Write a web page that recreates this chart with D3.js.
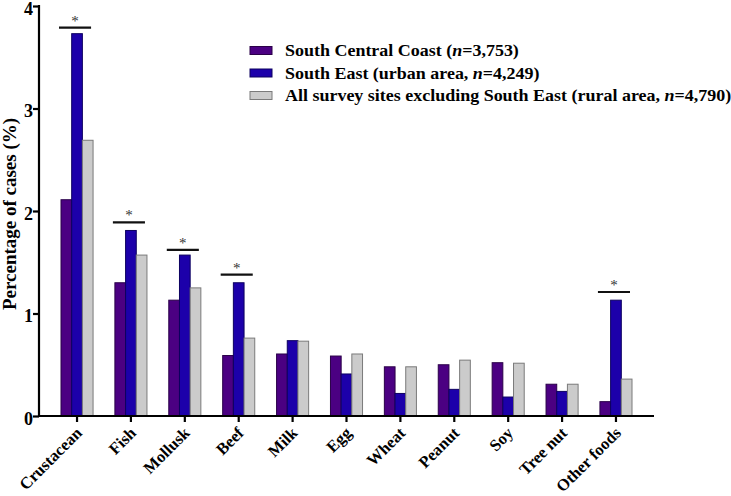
<!DOCTYPE html>
<html><head><meta charset="utf-8">
<script src="https://cdn.jsdelivr.net/npm/d3@7"></script>
<style>body{margin:0;background:#fff}svg{display:block}</style>
</head><body>
<svg id="c" width="731" height="496"></svg>
<script>
const categories = ["Crustacean","Fish","Mollusk","Beef","Milk","Egg","Wheat","Peanut","Soy","Tree nut","Other foods"];
const seriesNames = ["South Central Coast", "South East (urban area", "All survey sites excluding South East (rural area"];
const southCentralCoast = [2.11,1.30,1.13,0.59,0.605,0.585,0.48,0.50,0.52,0.31,0.14];
const southEast =        [3.73,1.81,1.57,1.30,0.735,0.41,0.22,0.26,0.185,0.24,1.13];
const ruralArea =        [2.69,1.57,1.25,0.76,0.73,0.605,0.48,0.545,0.515,0.31,0.36];
const yTicks = [0,1,2,3,4];
const sigCategories = ["Crustacean","Fish","Mollusk","Beef","Other foods"];
const sigLevels = [3.79,1.89,1.62,1.38,1.21];

const colors = ["#4b0082","#1c00aa","#cbcbcb"];
const strokes = ["#2a0048","#0d0060","#7a7a7a"];
const series = [southCentralCoast, southEast, ruralArea];
const FONT = '"Liberation Serif", "Times New Roman", serif';

const svg = d3.select("#c");
const y = d3.scaleLinear().domain([0,4]).range([416,6]);
const x = d3.scaleBand().domain(categories).range([61,632]).paddingInner(0.405).paddingOuter(0);
const xs = d3.scaleBand().domain([0,1,2]).range([0, x.bandwidth()]);

// bars
categories.forEach((c,i)=>{
  series.forEach((s,k)=>{
    svg.append("rect")
      .attr("x", x(c)+xs(k)).attr("y", y(s[i]))
      .attr("width", xs.bandwidth()).attr("height", y(0)-y(s[i]))
      .attr("fill", colors[k]).attr("stroke", strokes[k]).attr("stroke-width",1);
  });
});

// significance
sigCategories.forEach((c,i)=>{
  const x0 = x(c)-2, x1 = x(c)+x.bandwidth()-2;
  svg.append("line").attr("x1",x0).attr("x2",x1).attr("y1",y(sigLevels[i])).attr("y2",y(sigLevels[i]))
    .attr("stroke","#111").attr("stroke-width",2.2);
  svg.append("text").attr("x",(x0+x1)/2).attr("y",y(sigLevels[i])-2)
    .attr("text-anchor","middle").style("font-family",FONT).style("font-size","15px").attr("fill","#333").text("*");
});

// y axis
const yAxis = d3.axisLeft(y).tickValues(yTicks).tickFormat(d3.format("d")).tickSize(6).tickSizeOuter(0);
const gy = svg.append("g").attr("transform","translate(39,0)").call(yAxis);
gy.attr("font-family", null).attr("font-size", null);
gy.select(".domain").attr("stroke","#000").attr("stroke-width",2.2).attr("d","M0,5V417");
gy.selectAll(".tick line").attr("stroke","#000").attr("stroke-width",2.2);
gy.selectAll(".tick text").style("font-family",FONT).style("font-weight","bold").style("font-size","18px")
  .attr("fill","#000").attr("x",-6).attr("dy","0.45em");

// x axis
const xAxis = d3.axisBottom(x).tickSize(6).tickSizeOuter(0);
const gx = svg.append("g").attr("transform","translate(0,416)").call(xAxis);
gx.attr("font-family", null).attr("font-size", null);
gx.select(".domain").attr("stroke","#000").attr("stroke-width",2.2).attr("d","M38,0H654");
gx.selectAll(".tick line").attr("stroke","#000").attr("stroke-width",2.2);
gx.selectAll(".tick text").style("font-family",FONT).style("font-weight","bold").style("font-size","16.5px").attr("fill","#000")
  .attr("text-anchor","end").attr("transform","translate(6,18) rotate(-45)").attr("dy",0).attr("y",0).attr("x",0);

// y label
svg.append("text").attr("transform","translate(16,214) rotate(-90)").attr("text-anchor","middle")
  .style("font-family",FONT).style("font-weight","bold").style("font-size","19px").text("Percentage of cases (%)");

// legend
const legendN = ["3,753","4,249","4,790"];
const legendY = [50.5,73,95.5];
seriesNames.forEach((n,k)=>{
  svg.append("rect").attr("x",250).attr("y",legendY[k]-4).attr("width",22).attr("height",8)
    .attr("fill",colors[k]).attr("stroke",strokes[k]).attr("stroke-width",1);
  const t = svg.append("text").attr("transform",`translate(285,${legendY[k]+5.5}) scale(1.04,1)`)
    .style("font-family",FONT).style("font-weight","bold").style("font-size","17.3px");
  t.append("tspan").text(n + (k===0 ? " (" : ", "));
  t.append("tspan").style("font-style","italic").text("n");
  t.append("tspan").text("=" + legendN[k] + ")");
});
</script>
</body></html>
